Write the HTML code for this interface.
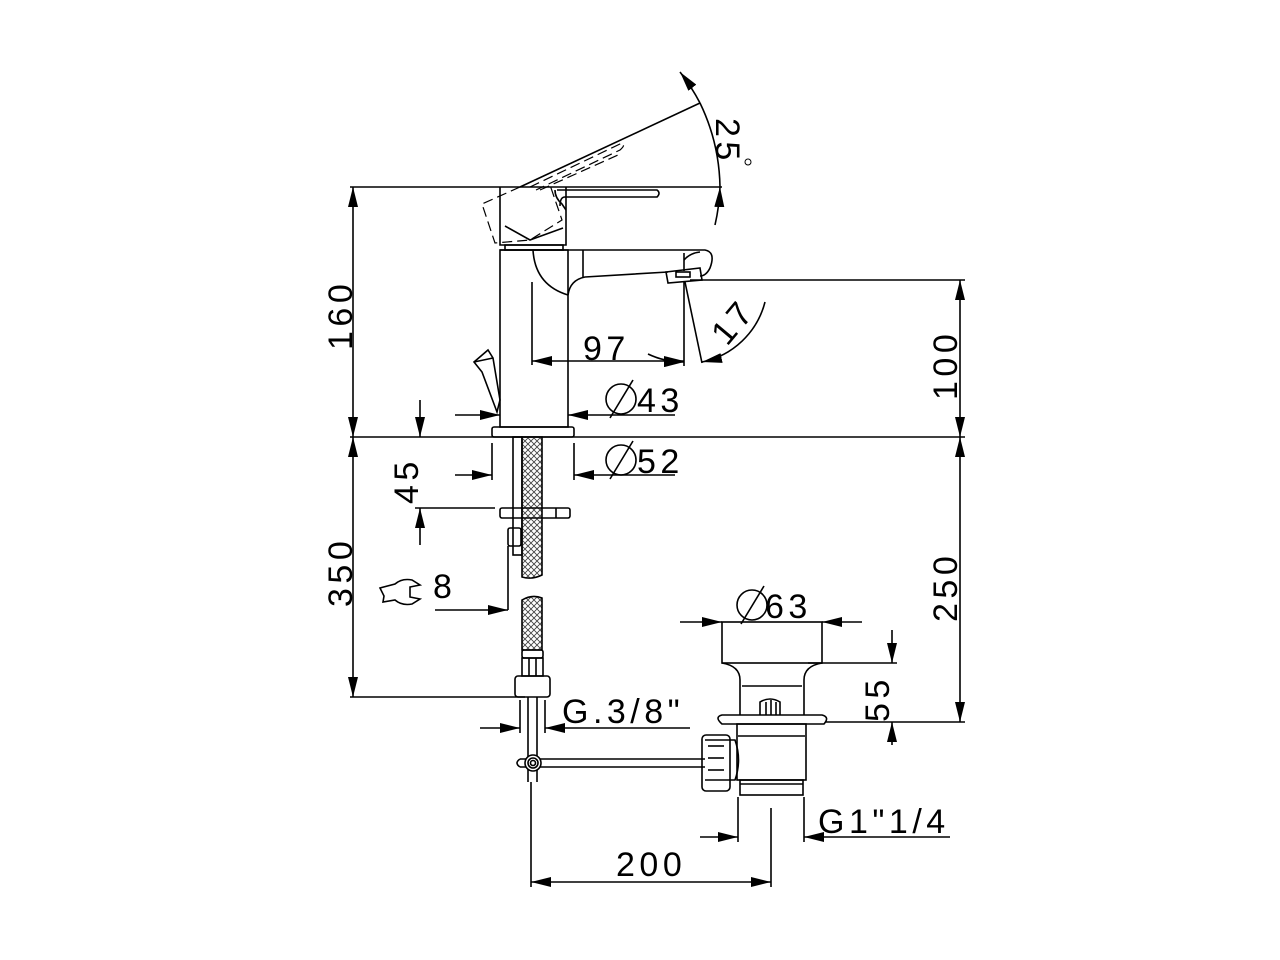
<!DOCTYPE html>
<html><head><meta charset="utf-8"><style>
html,body{margin:0;padding:0;background:#fff;width:1280px;height:960px;overflow:hidden}
svg{display:block}
text{font-family:"Liberation Sans",Arial,sans-serif;font-size:34px;fill:#000;letter-spacing:4.5px}
</style></head><body>
<svg width="1280" height="960" viewBox="0 0 1280 960" xmlns="http://www.w3.org/2000/svg">
<defs>
<marker id="a" viewBox="0 0 20 10" refX="20" refY="5" markerWidth="20" markerHeight="10" markerUnits="userSpaceOnUse" orient="auto-start-reverse"><path d="M0,0 L20,5 L0,10 z" fill="#000"/></marker>
<pattern id="mesh" width="6" height="6" patternUnits="userSpaceOnUse"><path d="M0,0 L6,6 M6,0 L0,6" stroke="#444" stroke-width="0.9"/></pattern>
</defs>
<g fill="none" stroke="#000" stroke-width="1.6">
<line x1="350" y1="187" x2="722" y2="187"/>
<line x1="350" y1="437" x2="965" y2="437"/>
<line x1="350" y1="697" x2="525" y2="697"/>
<line x1="690" y1="280" x2="965" y2="280"/>
<line x1="825" y1="722" x2="965" y2="722"/>
<line x1="808" y1="663" x2="897" y2="663"/>
<line x1="353" y1="187" x2="353" y2="437" marker-start="url(#a)" marker-end="url(#a)"/>
<line x1="353" y1="437" x2="353" y2="697" marker-start="url(#a)" marker-end="url(#a)"/>
<line x1="960" y1="280" x2="960" y2="437" marker-start="url(#a)" marker-end="url(#a)"/>
<line x1="960" y1="437" x2="960" y2="722" marker-start="url(#a)" marker-end="url(#a)"/>
<line x1="892" y1="630" x2="892" y2="663" marker-end="url(#a)"/>
<line x1="892" y1="745" x2="892" y2="722" marker-end="url(#a)"/>
<line x1="420" y1="400" x2="420" y2="437" marker-end="url(#a)"/>
<line x1="420" y1="545" x2="420" y2="508" marker-end="url(#a)"/>
<line x1="415" y1="508" x2="495" y2="508"/>
<rect x="500" y="250" width="68" height="177"/>
<rect x="492" y="427" width="82" height="10" rx="2"/>
<path d="M500,250 L705,250 Q716,252 710,268 Q706,276 700,276"/>
<path d="M568,295 Q570,280 585,277 L668,272"/>
<path d="M533,250 Q535,285 568,295"/>
<line x1="583" y1="250" x2="583" y2="277"/>
<line x1="684" y1="253" x2="684" y2="271"/>
<path d="M684,260 Q690,253 700,252"/>
<path d="M666,272 L700,268 L702,280 L668,283 Z"/>
<rect x="676" y="272" width="14" height="5"/>
<path d="M500,187 L500,245 L566,245 L566,187"/>
<path d="M505,226 L530,240 L563,228"/>
<rect x="505" y="245" width="58" height="5"/>
<path d="M557,190 L657,190 Q661,193 657,197 L565,197 Q560,197 560,206"/>
<path d="M555,190 Q555,198 562,204 L566,210"/>
<g stroke-dasharray="10,5" stroke-width="1.2">
<path d="M520,187 L482,204 L495,243 L530,240 L562,220 L550,185"/>
<path d="M530,187 L622,143 Q626,145 620,150 L536,190"/>
<path d="M540,190 L618,155"/>
</g>
<line x1="520" y1="187" x2="700" y2="103"/>
<path d="M680,72 A200,200 0 0 1 700,103" marker-start="url(#a)"/>
<path d="M700,103 A200,200 0 0 1 720,187"/>
<path d="M715,225 A200,200 0 0 0 720,187" marker-end="url(#a)"/>
<path d="M474,362 L488,350 L493,358 L500,400 L497,412 L482,372 Z"/>
<line x1="474" y1="362" x2="493" y2="358"/>
<line x1="532" y1="282" x2="532" y2="365"/>
<line x1="684" y1="282" x2="684" y2="366"/>
<line x1="532" y1="361" x2="684" y2="361" marker-start="url(#a)" marker-end="url(#a)"/>
<line x1="685" y1="282" x2="702" y2="363"/>
<path d="M648,354 A82,82 0 0 0 684,362" marker-end="url(#a)"/>
<path d="M765,302 A82,82 0 0 1 702,362" marker-end="url(#a)"/>
<line x1="455" y1="415" x2="500" y2="415" marker-end="url(#a)"/>
<line x1="675" y1="415" x2="568" y2="415" marker-end="url(#a)"/>
<line x1="492" y1="443" x2="492" y2="480"/>
<line x1="574" y1="443" x2="574" y2="480"/>
<line x1="455" y1="475" x2="492" y2="475" marker-end="url(#a)"/>
<line x1="675" y1="475" x2="574" y2="475" marker-end="url(#a)"/>
<rect x="513" y="437" width="9" height="118"/>
<path d="M522,437 L542,437 L542,575 Q532,580 522,577 Z" fill="url(#mesh)"/>
<path d="M522,600 Q532,594 542,598 L542,650 L522,650 Z" fill="url(#mesh)"/>
<rect x="500" y="508" width="70" height="10" rx="2"/>
<line x1="556" y1="508" x2="556" y2="518"/>
<rect x="508" y="528" width="13" height="18" rx="2"/>
<line x1="508" y1="546" x2="508" y2="610"/>
<line x1="435" y1="610" x2="508" y2="610" marker-end="url(#a)"/>
<path d="M380,588 L395,584 Q402,578 412,580 L420,585 L410,587 L410,597 L420,599 L412,604 Q402,606 395,600 L383,602 L384,596 Z"/>
<rect x="522" y="650" width="21" height="8" rx="2"/>
<rect x="522" y="658" width="21" height="18"/>
<line x1="529" y1="658" x2="529" y2="676"/><line x1="536" y1="658" x2="536" y2="676"/>
<rect x="515" y="676" width="35" height="21" rx="3"/>
<line x1="528" y1="697" x2="528" y2="782"/>
<line x1="537" y1="697" x2="537" y2="782"/>
<line x1="520" y1="700" x2="520" y2="733"/>
<line x1="545" y1="700" x2="545" y2="733"/>
<line x1="480" y1="728" x2="520" y2="728" marker-end="url(#a)"/>
<line x1="690" y1="728" x2="545" y2="728" marker-end="url(#a)"/>
<line x1="520" y1="759" x2="705" y2="759"/>
<line x1="520" y1="767" x2="705" y2="767"/>
<path d="M520,759 Q514,763 520,767"/>
<circle cx="533" cy="763" r="8" fill="#fff"/>
<circle cx="533" cy="763" r="5"/>
<circle cx="533" cy="763" r="2.5"/>
<rect x="722" y="622" width="100" height="41"/>
<path d="M722,663 Q740,666 740,680 L740,715"/>
<path d="M822,663 Q804,666 804,680 L804,715"/>
<line x1="742" y1="686" x2="802" y2="686"/>
<path d="M760,715 L760,702 Q770,696 780,702 L780,715"/>
<line x1="766" y1="702" x2="766" y2="715"/><line x1="771" y1="700" x2="771" y2="715"/><line x1="776" y1="702" x2="776" y2="715"/>
<path d="M722,715 L822,715 Q830,717 824,724 L722,724 Q714,717 722,715 Z"/>
<rect x="737" y="724" width="69" height="56"/>
<line x1="738" y1="736" x2="805" y2="736"/>
<rect x="740" y="780" width="63" height="15"/>
<line x1="740" y1="784" x2="803" y2="784"/>
<path d="M705,740 L735,740 Q742,760 735,780 L705,780"/>
<rect x="702" y="735" width="28" height="56" rx="4"/>
<line x1="708" y1="746" x2="724" y2="746"/><line x1="708" y1="758" x2="724" y2="758"/><line x1="708" y1="770" x2="724" y2="770"/>
<line x1="680" y1="622" x2="722" y2="622" marker-end="url(#a)"/>
<line x1="862" y1="622" x2="822" y2="622" marker-end="url(#a)"/>
<line x1="738" y1="797" x2="738" y2="842"/>
<line x1="804" y1="797" x2="804" y2="842"/>
<line x1="700" y1="837" x2="738" y2="837" marker-end="url(#a)"/>
<line x1="950" y1="837" x2="804" y2="837" marker-end="url(#a)"/>
<line x1="771" y1="808" x2="771" y2="887"/>
<line x1="531" y1="782" x2="531" y2="887"/>
<line x1="531" y1="882" x2="771" y2="882" marker-start="url(#a)" marker-end="url(#a)"/>
<circle cx="621" cy="399" r="15"/><line x1="610" y1="418" x2="633" y2="380"/>
<circle cx="621" cy="460" r="15"/><line x1="610" y1="479" x2="633" y2="441"/>
<circle cx="752" cy="605" r="15"/><line x1="741" y1="624" x2="764" y2="586"/>
<circle cx="748" cy="162" r="3" stroke-width="1"/>
</g>
<g>
<text transform="translate(352,350) rotate(-90)">160</text>
<text transform="translate(352,607) rotate(-90)">350</text>
<text transform="translate(957,400) rotate(-90)">100</text>
<text transform="translate(957,622) rotate(-90)">250</text>
<text transform="translate(889,722) rotate(-90)">55</text>
<text transform="translate(418,504) rotate(-90)">45</text>
<text transform="translate(716,118) rotate(90)">25</text>
<text transform="translate(727,347) rotate(-50)">17</text>
<text x="583" y="360">97</text>
<text x="637" y="412">43</text>
<text x="637" y="473">52</text>
<text x="765" y="618">63</text>
<text x="433" y="598">8</text>
<text x="562" y="723">G.3/8"</text>
<text x="818" y="833">G1"1/4</text>
<text x="616" y="876">200</text>
</g>
</svg>
</body></html>
